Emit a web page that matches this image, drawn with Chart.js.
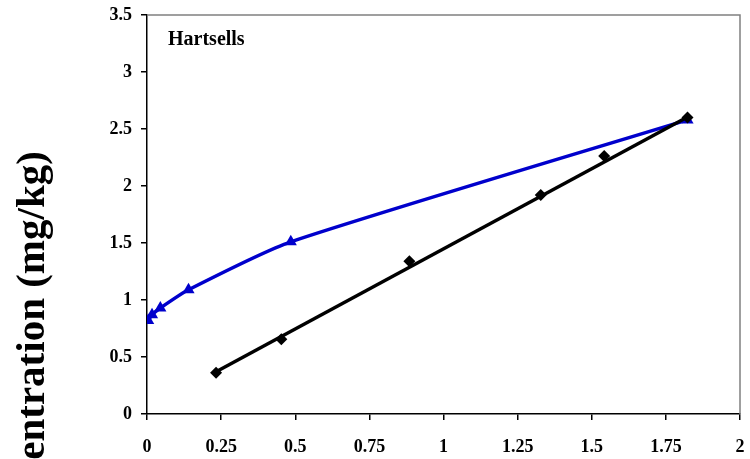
<!DOCTYPE html>
<html lang="en">
<head>
  <meta charset="UTF-8">
  <title>Hartsells</title>
  <script src="https://cdn.jsdelivr.net/npm/chart.js"></script>
  <style>
    html, body { margin: 0; padding: 0; background: #fff; }
    #wrap { width: 750px; height: 459px; }
  </style>
</head>
<body>
<div id="wrap"><canvas id="soilChart"></canvas></div>

<script>
// measured points
const triX = [0.004, 0.017, 0.045, 0.14, 0.485, 1.823];
const triY = [0.82, 0.87, 0.93, 1.09, 1.51, 2.58];
const diaX = [0.233, 0.453, 0.885, 1.328, 1.542, 1.823];
const diaY = [0.362, 0.655, 1.34, 1.92, 2.263, 2.60];
// linear fit through the diamonds
const fitX = [0.233, 1.823];
const fitY = [0.37, 2.605];

const xTickLabels = ["0", "0.25", "0.5", "0.75", "1", "1.25", "1.5", "1.75", "2"];
const yTickLabels = ["0", "0.5", "1", "1.5", "2", "2.5", "3", "3.5"];
const siteName = "Hartsells";
const yTitle = "Concentration (mg/kg)";

const serif = "'Liberation Serif', 'Times New Roman', serif";
const zip = (xs, ys) => xs.map((x, i) => ({ x: x, y: ys[i] }));

// top/right frame, site label and the big rotated axis title
const extras = {
  id: "extras",
  afterDraw(chart) {
    const ctx = chart.ctx;
    const a = chart.chartArea;
    ctx.save();
    ctx.strokeStyle = "#808080";
    ctx.lineWidth = 1.5;
    ctx.beginPath();
    ctx.moveTo(a.left, a.top);
    ctx.lineTo(a.right, a.top);
    ctx.lineTo(a.right, a.bottom);
    ctx.stroke();

    ctx.fillStyle = "#000";
    ctx.font = "bold 20px " + serif;
    ctx.textAlign = "left";
    ctx.textBaseline = "middle";
    ctx.fillText(siteName, a.left + 21, a.top + 25);

    ctx.font = "bold 41px " + serif;
    ctx.textAlign = "center";
    ctx.textBaseline = "middle";
    ctx.translate(33, 351);
    ctx.rotate(-Math.PI / 2);
    ctx.fillText(yTitle, 0, 0);
    ctx.restore();
  }
};

new Chart(document.getElementById("soilChart"), {
  type: "scatter",
  data: {
    datasets: [
      {
        data: zip(triX, triY),
        showLine: true,
        borderColor: "#0000CC",
        backgroundColor: "#0000CC",
        borderWidth: 3.5,
        tension: 0.2,
        pointStyle: "triangle",
        pointRadius: 7,
        pointBorderWidth: 0,
        order: 2
      },
      {
        data: zip(fitX, fitY),
        showLine: true,
        borderColor: "#000",
        borderWidth: 3.5,
        pointRadius: 0,
        order: 1
      },
      {
        data: zip(diaX, diaY),
        showLine: false,
        backgroundColor: "#000",
        borderColor: "#000",
        pointStyle: "rectRot",
        pointRadius: 6,
        pointBorderWidth: 0,
        order: 0
      }
    ]
  },
  options: {
    responsive: true,
    maintainAspectRatio: false,
    animation: false,
    layout: { padding: { top: 15, right: 10, left: 0, bottom: 0 } },
    plugins: {
      legend: { display: false },
      tooltip: { enabled: false }
    },
    scales: {
      x: {
        type: "linear",
        min: 0,
        max: 2,
        afterFit: s => { s.height = 45; s.paddingLeft = 0; s.paddingRight = 0; },
        grid: { drawOnChartArea: false, drawTicks: true, tickLength: 6, color: "#000", lineWidth: 1.5 },
        border: { color: "#000", width: 1.5 },
        ticks: {
          stepSize: 0.25,
          color: "#000",
          padding: 17,
          maxRotation: 0,
          font: { family: serif, size: 18, weight: "bold" },
          callback: v => xTickLabels[Math.round(v / 0.25)]
        }
      },
      y: {
        type: "linear",
        min: 0,
        max: 3.5,
        afterFit: s => { s.width = 147; s.paddingTop = 0; s.paddingBottom = 0; },
        grid: { drawOnChartArea: false, drawTicks: true, tickLength: 6, color: "#000", lineWidth: 1.5 },
        border: { color: "#000", width: 1.5 },
        ticks: {
          stepSize: 0.5,
          color: "#000",
          padding: 9,
          font: { family: serif, size: 18, weight: "bold" },
          callback: v => yTickLabels[Math.round(v / 0.5)]
        }
      }
    }
  },
  plugins: [extras]
});
</script>
</body>
</html>
